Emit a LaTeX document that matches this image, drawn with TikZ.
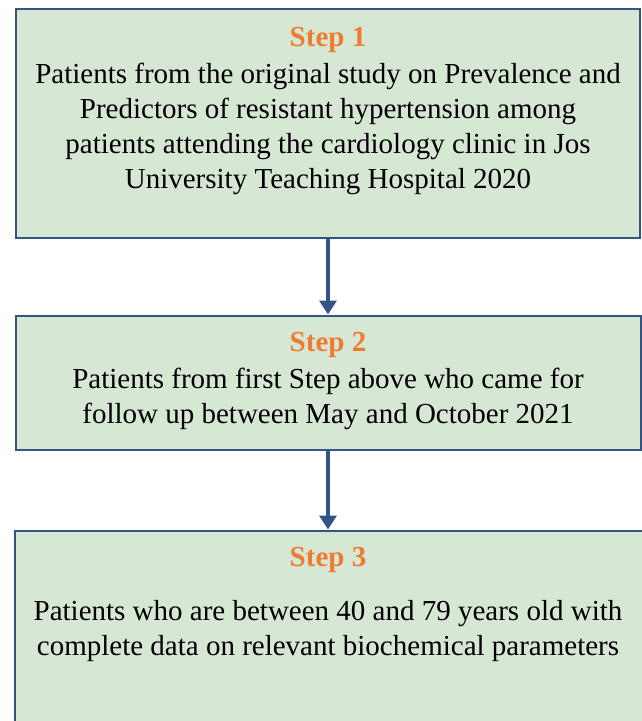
\documentclass[tikz,border=0pt]{standalone}
\usepackage{fontspec}
\setmainfont{Liberation Serif}
\usetikzlibrary{arrows.meta}
\definecolor{boxfill}{RGB}{214,231,211}
\definecolor{boxline}{RGB}{52,84,134}
\definecolor{steporange}{RGB}{237,125,49}
\tikzset{
  stepbox/.style={draw=boxline, line width=2.8pt, fill=boxfill, rectangle, inner sep=0pt, anchor=north west},
  steptitle/.style={text=steporange, font=\fontsize{29}{35}\selectfont\bfseries, inner sep=0pt},
  steptext/.style={font=\fontsize{29}{35}\selectfont, align=center, inner sep=0pt},
  flowarrow/.style={draw=boxline, line width=3.6pt, -{Triangle[length=14pt,width=17pt]}}
}
\begin{document}
\begin{tikzpicture}[x=1pt,y=-1pt]
\useasboundingbox (0,0) rectangle (642,721);
\clip (0,0) rectangle (642,721);
\node[stepbox, minimum width=624pt, minimum height=229pt] (b1) at (14.5,7.5) {};
\node[stepbox, minimum width=625pt, minimum height=134pt] (b2) at (14.5,314.5) {};
\node[stepbox, minimum width=640pt, minimum height=240pt] (b3) at (13.5,529.5) {};
\node[steptitle] (t1) at (328,40) {Step 1};
\node[steptext] (x1) at (328,128.5) {Patients from the original study on Prevalence and\\Predictors of resistant hypertension among\\patients attending the cardiology clinic in Jos\\University Teaching Hospital 2020};
\node[steptitle] (t2) at (328,345) {Step 2};
\node[steptext] (x2) at (328,398.5) {Patients from first Step above who came for\\follow up between May and October 2021};
\node[steptitle] (t3) at (328,560) {Step 3};
\node[steptext] (x3) at (328,631.5) {Patients who are between 40 and 79 years old with\\complete data on relevant biochemical parameters};
\draw[flowarrow] (b1.south -| t1) -- (b2.north -| t1);
\draw[flowarrow] (b2.south -| t2) -- (b3.north -| t2);
\end{tikzpicture}
\end{document}
